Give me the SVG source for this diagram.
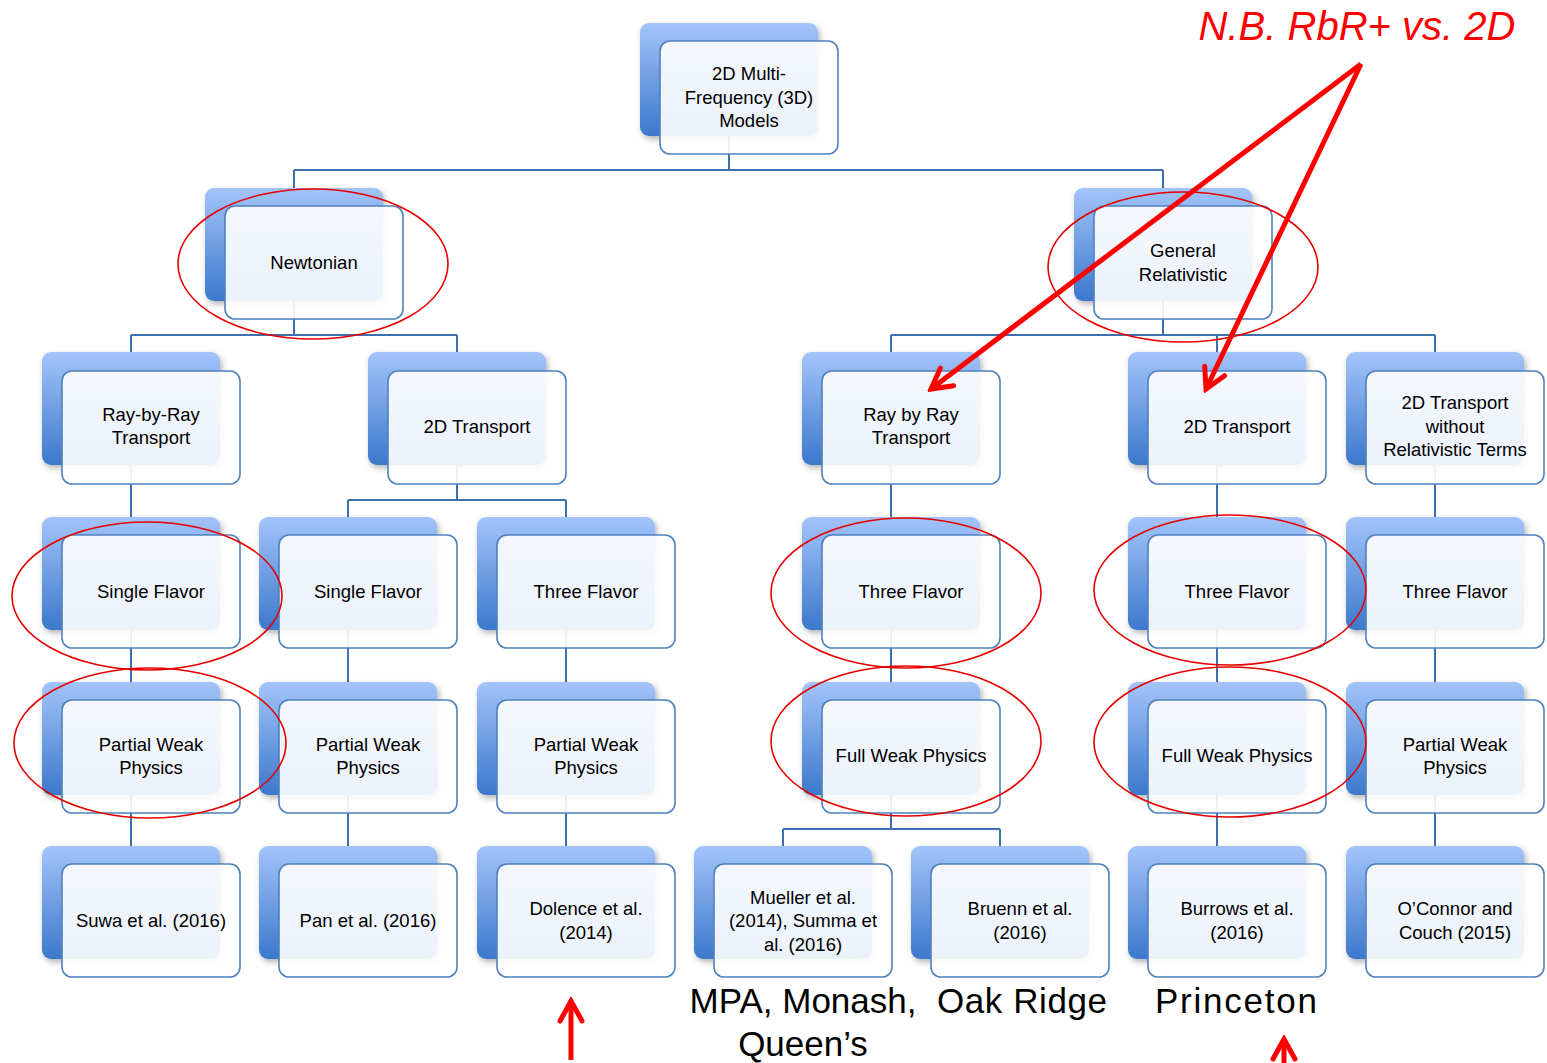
<svg xmlns="http://www.w3.org/2000/svg" width="1547" height="1063" viewBox="0 0 1547 1063">
<style>
.back{fill:url(#bg);filter:url(#sh)}
.front{fill:#ffffff;fill-opacity:0.9;stroke:#4f81bd;stroke-width:1.6}
.lbl{font-family:"Liberation Sans",Arial,sans-serif;font-size:18.5px;fill:#000;text-anchor:middle}
.big{font-family:"Liberation Sans",Arial,sans-serif;font-size:35px;fill:#000;text-anchor:middle}
.conn{fill:none;stroke:#3f6faf;stroke-width:2}
.oval{fill:none;stroke:#e60000;stroke-width:1.6}
.rarr{fill:none;stroke:#ff0000;stroke-width:5;marker-end:url(#rh)}
</style>
<defs>
<linearGradient id="bg" x1="0" y1="0" x2="0" y2="1">
<stop offset="0" stop-color="#a3c4fa"/>
<stop offset="1" stop-color="#3c78cc"/>
</linearGradient>
<filter id="sh" x="-10%" y="-10%" width="130%" height="130%">
<feDropShadow dx="2" dy="3" stdDeviation="3" flood-color="#000" flood-opacity="0.3"/>
</filter>
<marker id="rh" viewBox="-26 -15 30 30" markerWidth="30" markerHeight="30" refX="0" refY="0" orient="auto" markerUnits="userSpaceOnUse">
<path d="M-20,-11 L0,0 L-20,11" fill="none" stroke="#ff0000" stroke-width="5" stroke-linejoin="miter" stroke-linecap="round"/>
</marker>
</defs>
<rect width="1547" height="1063" fill="#ffffff"/>
<g id="connectors">
<path class="conn" d="M729 135V170M294 170H1163M294 170V188M1163 170V188"/>
<path class="conn" d="M294 301V335M131 335H457M131 335V352M457 335V352"/>
<path class="conn" d="M1163 301V335M891 335H1435M891 335V352M1217 335V352M1435 335V352"/>
<path class="conn" d="M131 465V517M457 465V500M348 500H566M348 500V517M566 500V517M891 465V517M1217 465V517M1435 465V517"/>
<path class="conn" d="M131 630V682M348 630V682M566 630V682M891 630V682M1217 630V682M1435 630V682"/>
<path class="conn" d="M131 795V846M348 795V846M566 795V846M891 795V829M783 829H1000M783 829V846M1000 829V846M1217 795V846M1435 795V846"/>
</g>
<g id="n-root"><rect class="back" x="640" y="23" width="178" height="113" rx="9"/><rect class="front" x="660" y="41" width="178" height="113" rx="10"/><text class="lbl" x="749" y="80">2D Multi-</text><text class="lbl" x="749" y="103.5">Frequency (3D)</text><text class="lbl" x="749" y="127">Models</text></g>
<g id="n-newtonian"><rect class="back" x="205" y="188" width="178" height="113" rx="9"/><rect class="front" x="225" y="206" width="178" height="113" rx="10"/><text class="lbl" x="314" y="268.5">Newtonian</text></g>
<g id="n-gr"><rect class="back" x="1074" y="188" width="178" height="113" rx="9"/><rect class="front" x="1094" y="206" width="178" height="113" rx="10"/><text class="lbl" x="1183" y="257">General</text><text class="lbl" x="1183" y="280.5">Relativistic</text></g>
<g id="n-newt-rbr"><rect class="back" x="42" y="352" width="178" height="113" rx="9"/><rect class="front" x="62" y="371" width="178" height="113" rx="10"/><text class="lbl" x="151" y="420.5">Ray-by-Ray</text><text class="lbl" x="151" y="444">Transport</text></g>
<g id="n-newt-2d"><rect class="back" x="368" y="352" width="178" height="113" rx="9"/><rect class="front" x="388" y="371" width="178" height="113" rx="10"/><text class="lbl" x="477" y="432.5">2D Transport</text></g>
<g id="n-gr-rbr"><rect class="back" x="802" y="352" width="178" height="113" rx="9"/><rect class="front" x="822" y="371" width="178" height="113" rx="10"/><text class="lbl" x="911" y="420.5">Ray by Ray</text><text class="lbl" x="911" y="444">Transport</text></g>
<g id="n-gr-2d"><rect class="back" x="1128" y="352" width="178" height="113" rx="9"/><rect class="front" x="1148" y="371" width="178" height="113" rx="10"/><text class="lbl" x="1237" y="432.5">2D Transport</text></g>
<g id="n-gr-2dnr"><rect class="back" x="1346" y="352" width="178" height="113" rx="9"/><rect class="front" x="1366" y="371" width="178" height="113" rx="10"/><text class="lbl" x="1455" y="409">2D Transport</text><text class="lbl" x="1455" y="432.5">without</text><text class="lbl" x="1455" y="456">Relativistic Terms</text></g>
<g id="n-f1"><rect class="back" x="42" y="517" width="178" height="113" rx="9"/><rect class="front" x="62" y="535" width="178" height="113" rx="10"/><text class="lbl" x="151" y="597.5">Single Flavor</text></g>
<g id="n-f2"><rect class="back" x="259" y="517" width="178" height="113" rx="9"/><rect class="front" x="279" y="535" width="178" height="113" rx="10"/><text class="lbl" x="368" y="597.5">Single Flavor</text></g>
<g id="n-f3"><rect class="back" x="477" y="517" width="178" height="113" rx="9"/><rect class="front" x="497" y="535" width="178" height="113" rx="10"/><text class="lbl" x="586" y="597.5">Three Flavor</text></g>
<g id="n-f4"><rect class="back" x="802" y="517" width="178" height="113" rx="9"/><rect class="front" x="822" y="535" width="178" height="113" rx="10"/><text class="lbl" x="911" y="597.5">Three Flavor</text></g>
<g id="n-f5"><rect class="back" x="1128" y="517" width="178" height="113" rx="9"/><rect class="front" x="1148" y="535" width="178" height="113" rx="10"/><text class="lbl" x="1237" y="597.5">Three Flavor</text></g>
<g id="n-f6"><rect class="back" x="1346" y="517" width="178" height="113" rx="9"/><rect class="front" x="1366" y="535" width="178" height="113" rx="10"/><text class="lbl" x="1455" y="597.5">Three Flavor</text></g>
<g id="n-w1"><rect class="back" x="42" y="682" width="178" height="113" rx="9"/><rect class="front" x="62" y="700" width="178" height="113" rx="10"/><text class="lbl" x="151" y="750.5">Partial Weak</text><text class="lbl" x="151" y="774">Physics</text></g>
<g id="n-w2"><rect class="back" x="259" y="682" width="178" height="113" rx="9"/><rect class="front" x="279" y="700" width="178" height="113" rx="10"/><text class="lbl" x="368" y="750.5">Partial Weak</text><text class="lbl" x="368" y="774">Physics</text></g>
<g id="n-w3"><rect class="back" x="477" y="682" width="178" height="113" rx="9"/><rect class="front" x="497" y="700" width="178" height="113" rx="10"/><text class="lbl" x="586" y="750.5">Partial Weak</text><text class="lbl" x="586" y="774">Physics</text></g>
<g id="n-w4"><rect class="back" x="802" y="682" width="178" height="113" rx="9"/><rect class="front" x="822" y="700" width="178" height="113" rx="10"/><text class="lbl" x="911" y="762">Full Weak Physics</text></g>
<g id="n-w5"><rect class="back" x="1128" y="682" width="178" height="113" rx="9"/><rect class="front" x="1148" y="700" width="178" height="113" rx="10"/><text class="lbl" x="1237" y="762">Full Weak Physics</text></g>
<g id="n-w6"><rect class="back" x="1346" y="682" width="178" height="113" rx="9"/><rect class="front" x="1366" y="700" width="178" height="113" rx="10"/><text class="lbl" x="1455" y="750.5">Partial Weak</text><text class="lbl" x="1455" y="774">Physics</text></g>
<g id="n-suwa"><rect class="back" x="42" y="846" width="178" height="113" rx="9"/><rect class="front" x="62" y="864" width="178" height="113" rx="10"/><text class="lbl" x="151" y="926.5">Suwa et al. (2016)</text></g>
<g id="n-pan"><rect class="back" x="259" y="846" width="178" height="113" rx="9"/><rect class="front" x="279" y="864" width="178" height="113" rx="10"/><text class="lbl" x="368" y="926.5">Pan et al. (2016)</text></g>
<g id="n-dolence"><rect class="back" x="477" y="846" width="178" height="113" rx="9"/><rect class="front" x="497" y="864" width="178" height="113" rx="10"/><text class="lbl" x="586" y="915">Dolence et al.</text><text class="lbl" x="586" y="938.5">(2014)</text></g>
<g id="n-mueller"><rect class="back" x="694" y="846" width="178" height="113" rx="9"/><rect class="front" x="714" y="864" width="178" height="113" rx="10"/><text class="lbl" x="803" y="903.5">Mueller et al.</text><text class="lbl" x="803" y="927">(2014), Summa et</text><text class="lbl" x="803" y="950.5">al. (2016)</text></g>
<g id="n-bruenn"><rect class="back" x="911" y="846" width="178" height="113" rx="9"/><rect class="front" x="931" y="864" width="178" height="113" rx="10"/><text class="lbl" x="1020" y="915">Bruenn et al.</text><text class="lbl" x="1020" y="938.5">(2016)</text></g>
<g id="n-burrows"><rect class="back" x="1128" y="846" width="178" height="113" rx="9"/><rect class="front" x="1148" y="864" width="178" height="113" rx="10"/><text class="lbl" x="1237" y="915">Burrows et al.</text><text class="lbl" x="1237" y="938.5">(2016)</text></g>
<g id="n-oconnor"><rect class="back" x="1346" y="846" width="178" height="113" rx="9"/><rect class="front" x="1366" y="864" width="178" height="113" rx="10"/><text class="lbl" x="1455" y="915">O’Connor and</text><text class="lbl" x="1455" y="938.5">Couch (2015)</text></g>
<g id="annotations">
<ellipse class="oval" cx="313" cy="264" rx="135" ry="75"/>
<ellipse class="oval" cx="1183" cy="267" rx="135" ry="75"/>
<ellipse class="oval" cx="147" cy="596" rx="135" ry="74"/>
<ellipse class="oval" cx="150" cy="743" rx="136" ry="75"/>
<ellipse class="oval" cx="906" cy="593" rx="135" ry="75"/>
<ellipse class="oval" cx="906" cy="741" rx="135" ry="75"/>
<ellipse class="oval" cx="1230" cy="590" rx="136" ry="75"/>
<ellipse class="oval" cx="1230" cy="742" rx="136" ry="75"/>
<text x="1357" y="40" font-family="'Liberation Sans',Arial,sans-serif" font-size="40" font-style="italic" fill="#ff0000" text-anchor="middle">N.B. RbR+ vs. 2D</text>
<path class="rarr" d="M1361 64L931 389"/>
<path class="rarr" d="M1361 64L1206 389"/>
<path class="rarr" d="M571 1060V1001"/>
<path class="rarr" d="M1284 1070V1039"/>
<text class="big" x="803" y="1013">MPA, Monash,</text>
<text class="big" x="803" y="1056">Queen’s</text>
<text class="big" x="1022" y="1013" textLength="170" lengthAdjust="spacing">Oak Ridge</text>
<text class="big" x="1236" y="1013" textLength="162" lengthAdjust="spacing">Princeton</text>
</g>
</svg>
